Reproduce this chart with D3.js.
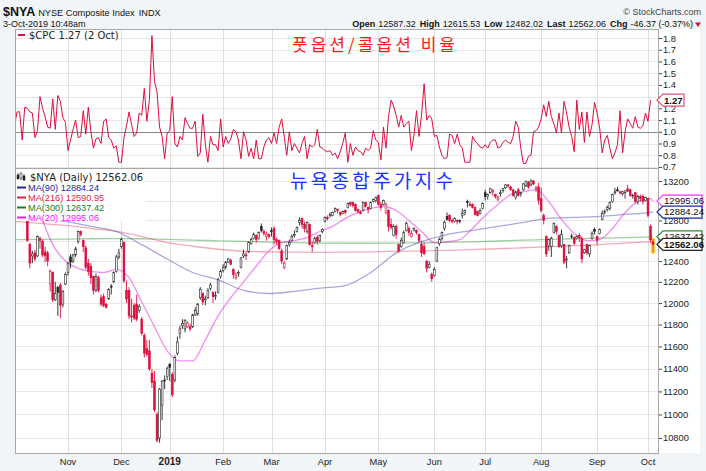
<!DOCTYPE html>
<html>
<head>
<meta charset="utf-8">
<script src="https://cdnjs.cloudflare.com/ajax/libs/d3/7.8.5/d3.min.js"></script>
<style>
  body { margin: 0; background: #f2f5f8; }
  #chart svg { display: block; }
  .axis text { font-family: "Liberation Sans", Arial, sans-serif; font-size: 9.3px; fill: #222; }
  .axis line { stroke: #444; }
  .axis path { stroke: #999; }
</style>
</head>
<body>
<div id="chart"></div>
<script>
// month grid: label and index of the first trading day of that month
var monthLabels = ["Nov", "Dec", "2019", "Feb", "Mar", "Apr", "May", "Jun", "Jul", "Aug", "Sep", "Oct"];
var monthStarts = [21, 42, 61, 82, 101, 122, 143, 165, 185, 207, 229, 249];

// $NYA daily candles, 3-Oct-2018 .. 3-Oct-2019
var opens = [
  13150,13090,13000,12930,12930,12850,12560,12450,12480,12450,
  12620,12590,12490,12480,12180,12290,12030,12150,12170,11990,
  12180,12290,12440,12400,12460,12590,12690,12600,12530,12380,
  12350,12250,12120,12240,12050,12060,11990,12040,12160,12200,
  12300,12440,12540,12580,12120,12120,11880,11980,11990,11930,
  11850,11700,11580,11560,11360,11290,11000,10800,11080,11300,
  11330,11440,11350,11300,11540,11720,11790,11760,11780,11780,
  11780,11890,11900,12050,12090,12030,12050,12140,12100,12060,
  12100,12250,12310,12340,12390,12410,12320,12240,12280,12340,
  12450,12460,12490,12570,12620,12650,12620,12740,12690,12640,
  12660,12700,12720,12610,12600,12500,12340,12420,12560,12600,
  12650,12690,12780,12820,12760,12690,12760,12550,12580,12630,
  12600,12690,12790,12830,12850,12850,12890,12910,12880,12870,
  12900,12930,12980,12980,12960,12910,12880,12900,12980,12930,
  12920,12990,13000,13050,12960,12960,12880,12900,12760,12650,
  12740,12560,12540,12580,12700,12720,12640,12700,12700,12660,
  12560,12540,12400,12340,12270,12260,12400,12570,12620,12720,
  12840,12850,12800,12790,12800,12800,12850,12880,12990,12960,
  12960,12930,12890,12870,12920,13080,13040,13080,13090,13060,
  13010,13070,13100,13130,13160,13140,13110,13030,13110,13070,
  13110,13150,13190,13160,13200,13120,13140,13020,12850,12640,
  12550,12540,12680,12740,12650,12550,12560,12410,12480,12640,
  12630,12620,12650,12620,12480,12560,12470,12620,12710,12640,
  12670,12810,12880,12910,12920,12990,13080,13110,13090,13070,
  13080,13120,13110,13040,13080,12990,13040,13040,13000,13020,
  12740,12587.32
];
var highs = [
  13170,13100,13020,12980,12960,12860,12580,12500,12510,12650,
  12640,12610,12540,12500,12320,12300,12200,12160,12190,12120,
  12290,12390,12470,12470,12540,12700,12700,12610,12550,12420,
  12380,12260,12280,12260,12080,12090,12000,12140,12180,12300,
  12460,12520,12630,12590,12210,12150,12040,12000,12080,11990,
  11870,11720,11660,11660,11400,11380,11020,11230,11300,11340,
  11420,11450,11370,11520,11690,11790,11850,11850,11830,11810,
  11900,11960,12000,12150,12100,12070,12140,12190,12110,12110,
  12240,12320,12370,12400,12430,12420,12330,12290,12310,12440,
  12510,12490,12590,12630,12680,12660,12690,12770,12710,12690,
  12670,12730,12740,12630,12610,12520,12400,12560,12610,12660,
  12700,12740,12830,12830,12790,12790,12770,12590,12640,12650,
  12660,12720,12840,12850,12880,12890,12930,12920,12890,12900,
  12910,12980,12990,12990,12970,12920,12900,12990,12990,12940,
  12990,13020,13040,13060,12990,13010,12980,12910,12820,12760,
  12760,12570,12630,12700,12790,12740,12700,12730,12710,12670,
  12600,12580,12410,12400,12290,12340,12540,12630,12690,12800,
  12880,12860,12820,12830,12810,12810,12920,12910,13010,12990,
  12970,12940,12900,12920,12980,13110,13070,13130,13120,13070,
  13050,13110,13130,13170,13170,13150,13120,13100,13130,13090,
  13180,13200,13200,13220,13210,13150,13180,13130,12870,12650,
  12620,12640,12780,12750,12660,12710,12570,12450,12560,12670,
  12640,12650,12670,12640,12520,12570,12560,12690,12730,12650,
  12720,12900,12910,12950,12990,13070,13130,13140,13100,13100,
  13100,13160,13120,13070,13090,13060,13060,13060,13040,13030,
  12760,12615.53
];
var lows = [
  13080,12960,12900,12880,12850,12590,12330,12380,12400,12440,
  12520,12440,12390,12350,12110,12010,12020,11880,11860,11960,
  12170,12260,12330,12380,12440,12570,12640,12490,12320,12260,
  12180,12080,12100,12100,11970,11960,11950,12030,12080,12190,
  12290,12420,12520,12190,12000,11850,11820,11840,11830,11910,
  11700,11500,11510,11380,11230,11020,10760,10760,10950,11220,
  11300,11290,11150,11280,11520,11670,11760,11730,11770,11740,
  11770,11880,11880,12030,11980,11980,12040,12120,12000,12030,
  12090,12230,12290,12320,12380,12360,12230,12220,12250,12330,
  12430,12410,12480,12560,12610,12580,12610,12680,12650,12600,
  12620,12640,12560,12560,12510,12370,12320,12410,12540,12590,
  12630,12680,12750,12720,12680,12670,12550,12490,12570,12560,
  12580,12670,12780,12800,12830,12840,12880,12870,12840,12860,
  12860,12920,12940,12930,12890,12870,12860,12890,12930,12870,
  12910,12980,12980,12950,12900,12950,12860,12690,12710,12640,
  12620,12480,12530,12570,12690,12650,12630,12690,12660,12580,
  12440,12460,12290,12330,12200,12250,12390,12550,12600,12700,
  12800,12780,12770,12780,12760,12770,12820,12850,12930,12940,
  12920,12850,12840,12860,12910,13000,13010,13070,13050,13020,
  12990,13040,13080,13120,13130,13100,13040,13010,13040,13040,
  13100,13140,13120,13150,13160,13090,12960,12880,12760,12440,
  12500,12440,12670,12660,12530,12530,12370,12330,12470,12620,
  12560,12610,12590,12380,12470,12460,12440,12610,12660,12560,
  12660,12800,12860,12890,12900,12980,13060,13090,13060,13050,
  13020,13090,13040,13020,12970,12960,12990,12960,12990,12830,
  12580,12482.02
];
var closes = [
  13110,13000,12950,12940,12880,12600,12380,12470,12420,12640,
  12600,12460,12450,12400,12300,12030,12090,12100,11980,12110,
  12270,12380,12390,12460,12520,12690,12660,12540,12340,12300,
  12240,12120,12250,12120,11990,11975,11960,12130,12150,12290,
  12440,12480,12610,12210,12040,11880,11870,11860,11850,11970,
  11720,11540,11530,11400,11280,11040,10780,11220,11290,11295,
  11400,11410,11170,11500,11640,11760,11810,11840,11815,11760,
  11890,11930,11990,12130,12010,12040,12120,12170,12060,12070,
  12220,12300,12340,12390,12420,12370,12270,12265,12290,12430,
  12470,12450,12580,12610,12660,12610,12680,12700,12670,12660,
  12640,12690,12610,12590,12520,12400,12380,12550,12580,12640,
  12660,12730,12800,12760,12720,12780,12560,12540,12620,12590,
  12650,12710,12830,12820,12860,12880,12920,12900,12860,12890,
  12880,12970,12960,12950,12900,12890,12880,12980,12940,12910,
  12980,13010,13030,12960,12930,13000,12960,12740,12730,12740,
  12660,12500,12600,12680,12770,12680,12670,12720,12680,12600,
  12480,12470,12330,12370,12230,12320,12530,12610,12680,12780,
  12810,12800,12790,12820,12790,12795,12870,12900,12980,12960,
  12930,12860,12850,12900,12970,13040,13060,13120,13100,13040,
  13030,13080,13120,13160,13150,13110,13050,13090,13050,13080,
  13170,13200,13140,13200,13170,13130,13000,12900,12800,12470,
  12610,12620,12770,12690,12540,12660,12390,12420,12550,12645,
  12570,12640,12630,12420,12510,12480,12550,12670,12690,12600,
  12710,12870,12890,12930,12980,13060,13090,13110,13080,13090,
  13100,13095,13050,13055,12990,13040,13020,12990,13030,12850,
  12608.43,12562.06
];

// $CPC daily put/call ratio, 3-Oct-2018 .. 2-Oct-2019
var cpc = [
  1.06,1.17,1.17,0.93,1.21,1.20,1.17,1.16,0.95,1.01,
  1.30,1.20,1.13,1.04,1.03,1.28,1.02,1.31,1.26,1.12,
  1.08,0.84,0.93,1.02,1.10,0.95,0.96,1.18,0.98,1.21,
  1.00,0.86,0.94,0.95,0.90,1.09,1.11,0.95,0.93,0.86,
  0.88,0.74,0.74,0.95,1.05,1.17,1.06,0.96,0.99,1.16,
  1.14,1.37,1.09,1.27,1.82,1.43,1.34,1.04,0.96,0.77,
  0.99,1.01,1.30,0.90,0.87,0.96,0.93,1.12,1.07,1.03,
  1.03,1.09,0.79,0.82,1.15,0.89,0.74,0.96,0.89,0.89,
  0.84,1.11,0.87,0.96,0.90,0.94,1.02,1.00,0.93,0.77,
  1.00,0.93,0.79,0.86,0.77,0.93,0.77,0.77,0.87,0.93,
  0.95,0.90,0.99,0.90,1.04,1.11,0.96,0.80,1.00,0.84,
  0.90,0.86,0.82,0.90,0.96,0.77,0.89,0.87,0.89,1.02,
  0.87,0.86,0.84,0.83,0.84,0.80,0.82,0.77,0.83,0.90,
  0.99,0.74,0.90,0.80,0.87,0.84,0.83,0.80,0.86,0.84,
  0.86,1.01,0.93,0.91,0.76,1.04,0.86,1.13,1.27,1.22,
  1.14,1.04,1.14,1.04,1.07,1.09,0.84,0.97,1.18,0.96,
  1.15,1.41,1.10,1.14,1.11,0.96,0.97,0.87,0.80,0.77,
  0.78,0.98,0.97,0.90,0.98,0.89,0.86,0.74,0.74,0.74,
  0.96,0.92,0.90,0.87,0.86,0.89,0.86,0.91,0.93,0.93,
  0.86,0.87,0.91,0.93,0.91,0.90,0.96,1.09,1.04,0.86,
  0.73,0.73,0.79,0.80,1.00,1.01,1.04,1.11,1.23,1.13,
  1.26,1.13,1.07,0.99,1.16,0.99,1.26,1.16,1.04,0.96,
  0.83,1.27,1.02,1.17,0.91,1.17,0.96,1.06,1.25,1.16,
  1.03,0.82,0.93,0.97,0.86,0.77,0.82,0.89,1.18,0.82,
  1.00,1.11,1.07,1.03,1.13,1.04,1.03,1.05,1.16,1.09,
  1.27
];

// moving averages at sample days
var ma20Days = [0,5,10,15,20,25,30,35,40,45,50,55,60,65,70,75,80,85,90,95,100,105,110,115,120,125,
  130,135,140,145,150,155,160,165,170,175,180,185,190,195,200,205,210,215,220,225,230,235,240,245,250,251];
var ma20 = [13060,13020,12850,12560,12400,12330,12300,12290,12320,12240,12010,11780,11560,11470,11470,11660,
  11880,12050,12200,12350,12500,12580,12600,12630,12690,12740,12820,12880,12920,12940,12900,12800,12690,12580,
  12590,12610,12720,12850,12960,13060,13090,13110,12990,12810,12670,12600,12610,12720,12880,12990,13020,12995.06];
var maDays = [0,10,20,30,40,50,60,70,80,90,100,110,120,130,140,150,160,170,180,190,200,210,220,230,240,250,251];
var ma90 = [12900,12820,12790,12740,12690,12560,12420,12290,12220,12120,12090,12110,12140,12165,12290,12480,
  12590,12660,12700,12740,12780,12820,12830,12840,12860,12880,12884.24];
var ma216 = [12790,12770,12750,12720,12690,12640,12580,12545,12515,12495,12490,12487,12485,12487,12490,12495,
  12500,12505,12512,12520,12530,12540,12550,12560,12575,12590,12590.95];
var ma300 = [12610,12612,12615,12618,12620,12618,12612,12605,12598,12592,12585,12580,12576,12574,12574,12576,
  12578,12582,12588,12596,12604,12612,12618,12624,12630,12636,12637.42];

var cpcTicks = [0.7, 0.8, 0.9, 1.0, 1.1, 1.2, 1.3, 1.4, 1.5, 1.6, 1.7, 1.8];
var priceTicks = [10800, 11000, 11200, 11400, 11600, 11800, 12000, 12200, 12400, 12600, 12800, 13000, 13200];
var headerStats = [["Open", "12587.32"], ["High", "12615.53"], ["Low", "12482.02"], ["Last", "12562.06"], ["Chg", "-46.37 (-0.37%)"]];

(function () {
  "use strict";
  var width = 706, height = 471;
  var plot = {left: 15, right: 658, top: 29, split: 168, bottom: 453};
  var red = "#dc0f3c";
  var sans = "'Liberation Sans', Arial, sans-serif";
  var verd = "'DejaVu Sans', Verdana, sans-serif";

  var svg = d3.select("#chart").append("svg")
    .attr("width", width)
    .attr("height", height);

  svg.append("rect").attr("width", width).attr("height", height).attr("fill", "#f2f5f8");
  svg.append("rect")
    .attr("x", plot.left).attr("y", plot.top)
    .attr("width", 700 - plot.left).attr("height", plot.bottom - plot.top)
    .attr("fill", "#fff");

  var x = d3.scaleLinear().domain([0.17, 252.93]).range([plot.left, plot.right]);
  var yCpc = d3.scaleLinear().domain([0.691, 1.877]).range([plot.split, plot.top]);
  var yPx = d3.scaleLog().domain([10674, 13335]).range([plot.bottom, plot.split]);

  var defs = svg.append("defs");
  defs.append("clipPath").attr("id", "clipTop").append("rect")
    .attr("x", plot.left).attr("y", plot.top)
    .attr("width", plot.right - plot.left).attr("height", plot.split - plot.top);
  defs.append("clipPath").attr("id", "clipBot").append("rect")
    .attr("x", plot.left).attr("y", plot.split)
    .attr("width", plot.right - plot.left).attr("height", plot.bottom - plot.split);

  function crisp(v) { return Math.round(v) + 0.5; }

  // grid
  var grid = svg.append("g").attr("shape-rendering", "crispEdges");
  grid.selectAll(".gt").data(cpcTicks).enter().append("line")
    .attr("x1", plot.left).attr("x2", plot.right)
    .attr("y1", d => crisp(yCpc(d))).attr("y2", d => crisp(yCpc(d)))
    .attr("stroke", "#e8e8e8");
  grid.selectAll(".gb").data(priceTicks).enter().append("line")
    .attr("x1", plot.left).attr("x2", plot.right)
    .attr("y1", d => crisp(yPx(d))).attr("y2", d => crisp(yPx(d)))
    .attr("stroke", "#e8e8e8");
  grid.selectAll(".gv").data(monthStarts).enter().append("line")
    .attr("x1", d => crisp(x(d))).attr("x2", d => crisp(x(d)))
    .attr("y1", plot.top).attr("y2", plot.bottom)
    .attr("stroke", "#e0e0e0");
  grid.append("line")
    .attr("x1", plot.left).attr("x2", plot.right)
    .attr("y1", crisp(yCpc(1))).attr("y2", crisp(yCpc(1)))
    .attr("stroke", "#888");

  // $CPC line
  svg.append("path")
    .attr("clip-path", "url(#clipTop)")
    .datum(cpc)
    .attr("fill", "none")
    .attr("stroke", red)
    .attr("stroke-width", 1)
    .attr("stroke-linejoin", "round")
    .attr("d", d3.line().x((d, i) => x(i)).y(d => yCpc(d)));

  // moving averages
  var bot = svg.append("g").attr("clip-path", "url(#clipBot)");
  var maLine = d3.line().x(d => x(d[0])).y(d => yPx(d[1])).curve(d3.curveMonotoneX);
  [
    {days: maDays, vals: ma300, color: "#2e9a2e", op: 0.45},
    {days: maDays, vals: ma216, color: "#e0304a", op: 0.4},
    {days: maDays, vals: ma90, color: "#4040b0", op: 0.45},
    {days: ma20Days, vals: ma20, color: "#e020e0", op: 0.5}
  ].forEach(function (m) {
    bot.append("path")
      .datum(d3.zip(m.days, m.vals))
      .attr("fill", "none")
      .attr("stroke", m.color)
      .attr("stroke-opacity", m.op)
      .attr("stroke-width", 1.3)
      .attr("d", maLine);
  });

  // candles
  var candles = closes.map(function (c, i) {
    return {i: i, o: opens[i], h: highs[i], l: lows[i], c: c, prev: i ? closes[i - 1] : opens[i]};
  });
  var last = candles[candles.length - 1];
  bot.append("rect")
    .attr("x", x(last.i) - 2.5).attr("width", 5)
    .attr("y", yPx(last.h) - 1).attr("height", yPx(last.l) - yPx(last.h) + 2)
    .attr("fill", "#ffe04a");
  var cg = bot.selectAll(".candle").data(candles).enter().append("g");
  cg.append("line")
    .attr("x1", d => x(d.i)).attr("x2", d => x(d.i))
    .attr("y1", d => yPx(d.h)).attr("y2", d => yPx(d.l))
    .attr("stroke", d => d.c < d.prev ? red : "#222")
    .attr("stroke-width", 0.9);
  cg.append("rect")
    .attr("x", d => x(d.i) - 0.9)
    .attr("width", 1.8)
    .attr("y", d => yPx(Math.max(d.o, d.c)))
    .attr("height", d => Math.max(1, yPx(Math.min(d.o, d.c)) - yPx(Math.max(d.o, d.c))))
    .attr("fill", d => d.c > d.o ? "#fff" : (d.c < d.prev ? red : "#222"))
    .attr("stroke", d => d.c < d.prev ? red : "#222")
    .attr("stroke-width", 0.6);

  // legends
  var lgTop = svg.append("g");
  lgTop.append("line").attr("x1", 18).attr("x2", 25).attr("y1", 35).attr("y2", 35)
    .attr("stroke", red).attr("stroke-width", 2);
  lgTop.append("text").attr("x", 29).attr("y", 38.5)
    .attr("font-family", verd).attr("font-size", 10).attr("fill", "#222")
    .text("$CPC 1.27 (2 Oct)");

  var lgBot = svg.append("g");
  lgBot.append("rect").attr("x", plot.left + 0.5).attr("y", plot.split + 1)
    .attr("width", 130).attr("height", 52).attr("fill", "#fff");
  [[17, 173, 179], [20, 172, 180], [23, 174, 181]].forEach(function (b, k) {
    lgBot.append("line").attr("x1", b[0] + 1).attr("x2", b[0] + 1).attr("y1", b[1]).attr("y2", b[2])
      .attr("stroke", "#222").attr("stroke-width", 0.8);
    lgBot.append("rect").attr("x", b[0]).attr("y", b[1] + 2).attr("width", 2).attr("height", 4)
      .attr("fill", k === 1 ? "#fff" : "#222").attr("stroke", "#222").attr("stroke-width", 0.5);
  });
  lgBot.append("text").attr("x", 30).attr("y", 181)
    .attr("font-family", verd).attr("font-size", 10).attr("fill", "#222")
    .text("$NYA (Daily) 12562.06");
  [
    ["MA(90) 12884.24", "#1c2a9c"],
    ["MA(216) 12590.95", "#dc1e46"],
    ["MA(300) 12637.42", "#1f7a1f"],
    ["MA(20) 12995.06", "#ff10ff"]
  ].forEach(function (r, k) {
    var yy = 187.5 + k * 10;
    lgBot.append("line").attr("x1", 17).attr("x2", 26).attr("y1", yy).attr("y2", yy)
      .attr("stroke", r[1]).attr("stroke-width", 2);
    lgBot.append("text").attr("x", 28).attr("y", yy + 3.3)
      .attr("font-family", sans).attr("font-size", 9.2).attr("fill", r[1])
      .text(r[0]);
  });

  // Korean titles
  svg.append("text").attr("x", 292).attr("y", 51)
    .attr("font-family", "'Noto Sans CJK KR', sans-serif").attr("font-size", 17)
    .attr("fill", "#ff1a1a")
    .attr("textLength", 163).attr("lengthAdjust", "spacing")
    .text("풋옵션/콜옵션 비율");
  svg.append("text").attr("x", 290).attr("y", 188)
    .attr("font-family", "'Noto Sans CJK KR', sans-serif").attr("font-size", 19)
    .attr("fill", "#1a34ff")
    .attr("textLength", 163).attr("lengthAdjust", "spacing")
    .text("뉴욕종합주가지수");

  // values shown in the right-edge tags; tick labels under them are hidden as on the original
  var tagPx = [ma20[ma20.length - 1], ma90[ma90.length - 1], ma300[ma300.length - 1], last.c];
  function underTag(d) {
    return tagPx.some(v => Math.abs(yPx(v) - yPx(d)) < 6);
  }

  // axes
  svg.append("g").attr("class", "axis")
    .attr("transform", "translate(" + plot.right + ",0)")
    .call(d3.axisRight(yCpc).tickValues(cpcTicks).tickSize(4).tickSizeOuter(0).tickPadding(1)
      .tickFormat(d3.format(".1f")));
  var axBot = svg.append("g").attr("class", "axis")
    .attr("transform", "translate(" + plot.right + ",0)")
    .call(d3.axisRight(yPx).tickValues(priceTicks).tickSize(4).tickSizeOuter(0).tickPadding(1)
      .tickFormat(d3.format("d")));
  axBot.selectAll(".tick text").filter(underTag).remove();

  // panel borders
  svg.append("g").attr("fill", "none").attr("stroke", "#a8a8a8").attr("shape-rendering", "crispEdges")
    .selectAll("rect").data([[plot.top, plot.split], [plot.split, plot.bottom]]).enter().append("rect")
    .attr("x", plot.left + 0.5).attr("y", d => d[0] + 0.5)
    .attr("width", plot.right - plot.left).attr("height", d => d[1] - d[0]);

  // value tags on the right edge
  function tag(yy, label, color, bold, w) {
    var x0 = plot.right - 1;
    var g = svg.append("g");
    g.append("path")
      .attr("d", "M" + x0 + "," + yy + "L" + (x0 + 6) + "," + (yy - 6) + "H" + (x0 + w) +
        "V" + (yy + 6) + "H" + (x0 + 6) + "Z")
      .attr("fill", "#fff").attr("stroke", color).attr("stroke-width", 1.2);
    g.append("text").attr("x", x0 + 7).attr("y", yy).attr("dy", "0.35em")
      .attr("font-family", sans).attr("font-size", 9.6)
      .attr("font-weight", bold ? "bold" : "normal").attr("fill", "#111")
      .text(label);
  }
  tag(yCpc(cpc[cpc.length - 1]), "1.27", "#e0507a", true, 27);
  tag(yPx(ma20[ma20.length - 1]), "12995.06", "#ff30ff", false, 45);
  tag(yPx(ma90[ma90.length - 1]), "12884.24", "#1c2a9c", false, 45);
  tag(yPx(ma300[ma300.length - 1]), "12637.42", "#2e8a2e", false, 45);
  tag(yPx(last.c), "12562.06", "#222", true, 45);

  // month labels
  svg.append("g").selectAll("text").data(monthLabels).enter().append("text")
    .attr("x", (d, k) => x(monthStarts[k]))
    .attr("y", 465)
    .attr("text-anchor", "middle")
    .attr("font-family", sans)
    .attr("font-size", d => d === "2019" ? 10 : 9.3)
    .attr("font-weight", d => d === "2019" ? "bold" : "normal")
    .attr("fill", "#222")
    .text(d => d);

  // header
  var hdr = svg.append("g").attr("font-family", sans).attr("fill", "#111");
  var t1 = hdr.append("text").attr("x", 3).attr("y", 16);
  t1.append("tspan").attr("font-weight", "bold").attr("font-size", 12.5).text("$NYA");
  t1.append("tspan").attr("font-size", 9.2).attr("dx", 3).text("NYSE Composite Index");
  t1.append("tspan").attr("font-size", 9.2).attr("dx", 4).text("INDX");
  hdr.append("text").attr("x", 3).attr("y", 27).attr("font-size", 9).text("3-Oct-2019 10:48am");
  hdr.append("text").attr("x", 701).attr("y", 15).attr("text-anchor", "end")
    .attr("font-size", 9).attr("fill", "#444").text("\u00a9 StockCharts.com");
  var t2 = hdr.append("text").attr("x", 693).attr("y", 27).attr("text-anchor", "end").attr("font-size", 9);
  headerStats.forEach(function (s, k) {
    t2.append("tspan").attr("font-weight", "bold").attr("dx", k ? 4 : 0).text(s[0]);
    t2.append("tspan").attr("dx", 3).text(s[1]);
  });
  hdr.append("path").attr("d", "M695,22.5H701L698,27Z").attr("fill", red);
})();
</script>
</body>
</html>
